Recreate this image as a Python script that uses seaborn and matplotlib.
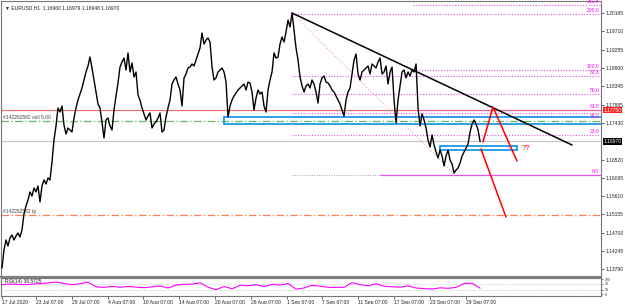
import matplotlib
matplotlib.use('Agg')
import matplotlib.pyplot as plt
import matplotlib.patches as mpatches
import seaborn as sns
import pandas as pd

# EURUSD H1, sampled every ~5.4 trading hours from 17 Jul 2020 (x in trading days)
start_day = 0.49
step_day = 0.2235
close = [
    1.13821, 1.14269, 1.14518, 1.14369, 1.14568, 1.14642, 1.14518, 1.14617, 1.14692, 1.14592,
    1.14766, 1.15164, 1.15364, 1.15513, 1.15712, 1.15612, 1.15811, 1.15712, 1.15861, 1.15463,
    1.15861, 1.16010, 1.15911, 1.16060, 1.16010, 1.16458, 1.17005, 1.17354, 1.17801, 1.17702,
    1.17851, 1.17379, 1.17155, 1.17304, 1.17254, 1.17204, 1.17553, 1.17801, 1.18000, 1.18150,
    1.18299, 1.18498, 1.18697, 1.18846, 1.19070, 1.18796, 1.18498, 1.18199, 1.17901, 1.17801,
    1.17453, 1.17055, 1.17503, 1.17553, 1.17354, 1.17254, 1.17752, 1.18100, 1.18423, 1.18821,
    1.18946, 1.19045, 1.18747, 1.19170, 1.18697, 1.18921, 1.18573, 1.18697, 1.18125, 1.18000,
    1.17801, 1.17652, 1.17503, 1.17602, 1.17677, 1.17304, 1.17403, 1.17453, 1.17553, 1.17677,
    1.17204, 1.17254, 1.17578, 1.17801, 1.18000, 1.18398, 1.18498, 1.18573, 1.18398, 1.18249,
    1.17851, 1.18548, 1.18647, 1.18796, 1.18821, 1.18896, 1.18846, 1.18995, 1.19145, 1.19294,
    1.19667, 1.19393, 1.19493, 1.19543, 1.19443, 1.18821, 1.18498, 1.18548, 1.18697, 1.18747,
    1.18796, 1.18697, 1.18448, 1.17578, 1.17851, 1.18000, 1.18100, 1.18175, 1.18249, 1.18299,
    1.18349, 1.18398, 1.18249, 1.18448, 1.18423, 1.18199, 1.17752, 1.18050, 1.18249, 1.18150,
    1.18199, 1.17851, 1.17702, 1.18249, 1.18498, 1.18697, 1.19170, 1.19045, 1.19070, 1.19393,
    1.19568, 1.19443, 1.19692, 1.19990, 1.19816, 1.20165, 1.19742, 1.19294, 1.18995, 1.18573,
    1.18349, 1.18199, 1.18349, 1.18398, 1.18299, 1.18498, 1.18398, 1.18199, 1.17926, 1.18398,
    1.18548, 1.18597, 1.18448, 1.18423, 1.18349, 1.18249, 1.18199, 1.18100, 1.18000, 1.17901,
    1.17752, 1.17602, 1.18000, 1.18199, 1.18299, 1.18647, 1.18995, 1.19145, 1.18647, 1.18498,
    1.18697, 1.18747, 1.18796, 1.18846, 1.18647, 1.18896, 1.18846, 1.18796, 1.18946, 1.19045,
    1.18647, 1.18697, 1.18846, 1.18398, 1.18697, 1.18821, 1.18000, 1.17428, 1.18000, 1.18349,
    1.18697, 1.18747, 1.18548, 1.18697, 1.18597, 1.18747, 1.18697, 1.18896, 1.17801, 1.17354,
    1.17652, 1.17503, 1.17304, 1.17005, 1.16831, 1.17130, 1.16881, 1.16707, 1.16558, 1.16757,
    1.16607, 1.16359, 1.16607, 1.16757, 1.16508, 1.16408, 1.16184, 1.16259, 1.16309, 1.16433,
    1.16607, 1.16707, 1.16806, 1.16906, 1.17204, 1.17403, 1.17503, 1.17403, 1.17254, 1.16970,
]

rsi_start = 0.27
rsi_step = 0.894
rsi = [60, 66, 65, 62, 66, 69, 74, 80, 70, 62, 68, 80, 48, 44, 52, 45, 50, 46, 42, 48,
       53, 40, 60, 64, 66, 75, 45, 29, 50, 35, 58, 55, 62, 50, 64, 60, 70, 33, 40, 58,
       52, 45, 44, 45, 76, 62, 55, 68, 52, 48, 46, 54, 40, 36, 33, 41, 38, 44, 70, 72, 38.57]

date_labels = ['17 Jul 2020', '23 Jul 07:00', '29 Jul 07:00', '4 Aug 07:00', '10 Aug 07:00',
               '14 Aug 07:00', '20 Aug 07:00', '26 Aug 07:00', '1 Sep 07:00', '7 Sep 07:00',
               '11 Sep 07:00', '17 Sep 07:00', '23 Sep 07:00', '29 Sep 07:00']
date_days = [0.49] + [4.29 + 4 * k for k in range(13)]

price_ticks = [1.20165, 1.19710, 1.19255, 1.18800, 1.18345, 1.17885, 1.17430,
               1.16520, 1.16065, 1.15610, 1.15155, 1.14700, 1.14245, 1.13790]
bid_price = 1.16970
hline_price = 1.17750

# fibonacci levels: label, price, start day, label below line?
fib_labels = ['261.8', '200.0', '100.0', '61.8', '50.0', '61.8', '38.2', '23.6']
fib_prices = [1.20364, 1.20140, 1.18747, 1.18597, 1.18150, 1.17752, 1.17677, 1.17130]
fib_start = [46.4, 32.9, 46.4, 32.9, 32.9, 46.4, 32.9, 32.9]
fib_below = [False, False, False, False, False, False, True, False]
fib_zero = 1.16135
fib_zero_solid_from = 42.7
fib_anchor_days = [32.89, 51.11]
fib_anchor_prices = [1.20165, 1.16135]

trend_days = [32.89, 64.18]
trend_prices = [1.20165, 1.16881]

proj1_days = [54.23, 55.35, 58.03]
proj1_prices = [1.16956, 1.17826, 1.16483]
proj2_days = [54.01, 56.80]
proj2_prices = [1.16781, 1.15090]

order_price = 1.17478
tp_price = 1.15141
zone_big = (25.3, 1.17391, 70.0, 1.17578)
zone_small = (49.43, 1.16744, 58.03, 1.16844)

sns.set_theme(style='white')
plt.rcParams['font.family'] = ['Liberation Sans', 'DejaVu Sans']

fig = plt.figure(figsize=(6.25, 3.04), dpi=100)
ax = fig.add_axes([1 / 625, 1 - 277 / 304, 600 / 625, 276 / 304])
rax = fig.add_axes([1 / 625, 1 - 296 / 304, 600 / 625, 18 / 304])

XMIN, XMAX = 0.38, 67.42
fs = 3.6
dotted = (0, (1, 1.5))

df = pd.DataFrame({'day': [start_day + i * step_day for i in range(len(close))], 'price': close})

# horizontal objects first (behind price)
ax.axhline(hline_price, color='#E87070', lw=0.9, zorder=1)
ax.axhline(bid_price, color='#C8C8C8', lw=0.9, zorder=1)
ax.axhline(order_price, color='#5DBB5D', lw=0.9, ls=(0, (6, 2, 1, 2)), zorder=1)
ax.axhline(tp_price, color='#FF7F50', lw=0.9, ls=(0, (6, 2, 1, 2)), zorder=1)
ax.text(0.6, order_price + 0.0003, '#142262582 sell 5.00', fontsize=fs, color='#444444', va='bottom')
ax.text(0.6, tp_price + 0.0003, '#142262582 tp', fontsize=fs, color='#444444', va='bottom')

for lab, p, s, below in zip(fib_labels, fib_prices, fib_start, fib_below):
    ax.plot([s, XMAX], [p, p], color='#F050F0', lw=0.8, ls=dotted, zorder=1)
    off = -0.0002 if below else 0.0002
    ax.text(XMAX - 0.2, p + off, lab, fontsize=fs, color='#FF00FF', ha='right',
            va='top' if below else 'bottom')
ax.plot([fib_anchor_days[0], fib_zero_solid_from], [fib_zero, fib_zero], color='#A0A0A0', lw=0.7, ls=dotted, zorder=1)
ax.plot([fib_zero_solid_from, XMAX], [fib_zero, fib_zero], color='#F050F0', lw=0.9, zorder=1)
ax.text(XMAX - 0.2, fib_zero + 0.0002, '0.0', fontsize=fs, color='#FF00FF', ha='right', va='bottom')
ax.plot(fib_anchor_days, fib_anchor_prices, color='#F080F0', lw=0.7, ls=(0, (1, 2)), zorder=1)

for x0, y0, x1, y1 in [zone_big, zone_small]:
    ax.add_patch(mpatches.Rectangle((x0, y0), x1 - x0, y1 - y0, fill=False,
                                    edgecolor='#1E9BE0', lw=1.3, zorder=2))

sns.lineplot(data=df, x='day', y='price', ax=ax, color='black', lw=1.0, zorder=3)

ax.plot(trend_days, trend_prices, color='black', lw=1.1, zorder=4)
ax.plot(proj1_days, proj1_prices, color='red', lw=1.1, zorder=4)
ax.plot(proj2_days, proj2_prices, color='red', lw=1.1, zorder=4)
ax.text(58.6, 1.16806, '??', fontsize=5.5, color='red', va='center')

ax.text(0.006, 0.985, '\u25bc EURUSD,H1  1.16960 1.16979 1.16948 1.16970', transform=ax.transAxes,
        fontsize=fs, color='#222222', va='top')

ax.set_xlim(XMIN, XMAX)
ax.set_ylim(1.13597, 1.20463)
ax.set_xticks([])
ax.set_xlabel('')
ax.set_ylabel('')
ax.yaxis.tick_right()
ax.set_yticks(price_ticks, labels=[f'{p:.5f}' for p in price_ticks])
ax.tick_params(axis='y', right=True, length=2, width=0.5, pad=1.5, labelsize=fs, colors='#222222')
ax.text(1.004, bid_price, f'{bid_price:.5f}', transform=ax.get_yaxis_transform(), fontsize=fs,
        color='white', va='center', bbox=dict(facecolor='black', edgecolor='none', pad=0.6))
ax.text(1.004, hline_price, f'{hline_price:.5f}', transform=ax.get_yaxis_transform(), fontsize=fs,
        color='white', va='center', bbox=dict(facecolor='#FF2020', edgecolor='none', pad=0.6))
for side in ['left', 'top', 'right']:
    ax.spines[side].set_color('#777777')
    ax.spines[side].set_linewidth(0.8)
ax.spines['bottom'].set_color('#808080')
ax.spines['bottom'].set_linewidth(1.6)

# RSI panel
rdf = pd.DataFrame({'day': [rsi_start + j * rsi_step for j in range(len(rsi))], 'rsi': rsi})
rax.axhline(70, color='#B0B0B0', lw=0.5, ls=dotted)
rax.axhline(30, color='#B0B0B0', lw=0.5, ls=dotted)
sns.lineplot(data=rdf, x='day', y='rsi', ax=rax, color='#FF00FF', lw=0.8)
rax.text(0.006, 0.93, 'RSI(14) 38.5725', transform=rax.transAxes, fontsize=fs, color='#222222', va='top')
rax.set_xlim(XMIN, XMAX)
rax.set_ylim(-13.3, 106.7)
rax.set_xlabel('')
rax.set_ylabel('')
rax.yaxis.tick_right()
rax.set_yticks([100, 70, 30, 0], labels=['100', '70', '30', '0'])
rax.tick_params(axis='y', right=True, length=1.5, width=0.4, pad=1, labelsize=2.4, colors='#222222')
rax.set_xticks(date_days, labels=date_labels)
rax.tick_params(axis='x', bottom=True, length=2, width=0.5, pad=1, labelsize=fs, colors='#222222')
for lbl in rax.get_xticklabels():
    lbl.set_ha('left')
for side in ['left', 'top', 'right', 'bottom']:
    rax.spines[side].set_color('#777777')
    rax.spines[side].set_linewidth(0.8)

fig.savefig('out.png', dpi=100, facecolor='white')
